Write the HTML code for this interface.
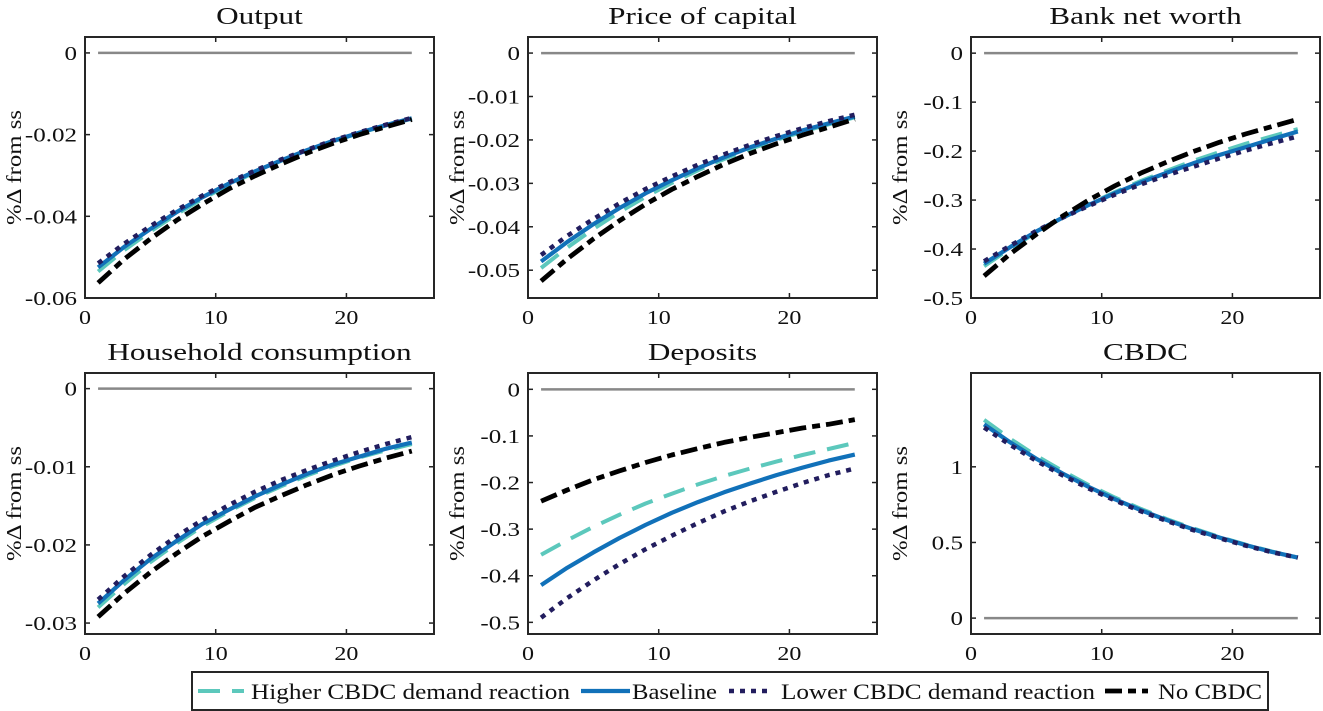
<!DOCTYPE html>
<html><head><meta charset="utf-8"><style>
body{margin:0;background:#fff;}
svg{display:block;font-family:"Liberation Serif",serif;}
</style></head><body>
<svg id="fig" width="1323" height="711" viewBox="0 0 1323 711" xmlns="http://www.w3.org/2000/svg"></svg>
<script>
const periods=[1,3,5,7,9,11,13,15,17,19,21,23,25];
const xTicks=[0,10,20];
const titles=["Output","Price of capital","Bank net worth","Household consumption","Deposits","CBDC"];
const yTicks=[[0,-0.02,-0.04,-0.06],[0,-0.01,-0.02,-0.03,-0.04,-0.05],[0,-0.1,-0.2,-0.3,-0.4,-0.5],[0,-0.01,-0.02,-0.03],[0,-0.1,-0.2,-0.3,-0.4,-0.5],[0,0.5,1]];
const yTickLabels=[["0","-0.02","-0.04","-0.06"],["0","-0.01","-0.02","-0.03","-0.04","-0.05"],["0","-0.1","-0.2","-0.3","-0.4","-0.5"],["0","-0.01","-0.02","-0.03"],["0","-0.1","-0.2","-0.3","-0.4","-0.5"],["0","0.5","1"]];
const yLims=[[-0.06,0.0039],[-0.0564,0.0037],[-0.5,0.033],[-0.0314,0.002],[-0.525,0.035],[-0.105,1.62]];
const higher=[
[-0.0535,-0.0483,-0.0437,-0.0395,-0.0357,-0.0323,-0.0292,-0.0264,-0.0239,-0.0216,-0.0196,-0.0178,-0.0161],
[-0.0495,-0.0448,-0.0405,-0.0366,-0.0331,-0.0299,-0.0270,-0.0244,-0.0221,-0.0200,-0.0181,-0.0164,-0.0148],
[-0.435,-0.399,-0.366,-0.336,-0.309,-0.284,-0.261,-0.240,-0.220,-0.202,-0.185,-0.170,-0.155],
[-0.0280,-0.0250,-0.0222,-0.0198,-0.0176,-0.0157,-0.0140,-0.0125,-0.0111,-0.0099,-0.0088,-0.0079,-0.0071],
[-0.355,-0.324,-0.295,-0.269,-0.245,-0.224,-0.204,-0.186,-0.170,-0.155,-0.141,-0.128,-0.115],
[1.31,1.185,1.073,0.972,0.880,0.797,0.722,0.654,0.593,0.537,0.486,0.441,0.400]];
const baseline=[
[-0.0525,-0.0475,-0.0431,-0.0390,-0.0353,-0.0320,-0.0290,-0.0263,-0.0238,-0.0215,-0.0195,-0.0177,-0.0160],
[-0.0480,-0.0435,-0.0394,-0.0357,-0.0323,-0.0293,-0.0265,-0.0240,-0.0217,-0.0197,-0.0178,-0.0162,-0.0146],
[-0.430,-0.396,-0.364,-0.336,-0.310,-0.286,-0.264,-0.244,-0.225,-0.208,-0.192,-0.176,-0.160],
[-0.0275,-0.0245,-0.0218,-0.0195,-0.0173,-0.0155,-0.0138,-0.0123,-0.0109,-0.0097,-0.0087,-0.0077,-0.0069],
[-0.420,-0.383,-0.350,-0.319,-0.291,-0.265,-0.242,-0.221,-0.202,-0.184,-0.168,-0.153,-0.140],
[1.28,1.161,1.053,0.956,0.867,0.786,0.713,0.647,0.587,0.533,0.483,0.438,0.400]];
const lower=[
[-0.0515,-0.0467,-0.0424,-0.0385,-0.0349,-0.0317,-0.0288,-0.0261,-0.0237,-0.0214,-0.0194,-0.0176,-0.0159],
[-0.0465,-0.0421,-0.0382,-0.0346,-0.0313,-0.0284,-0.0257,-0.0233,-0.0211,-0.0191,-0.0173,-0.0157,-0.0142],
[-0.425,-0.393,-0.363,-0.336,-0.312,-0.289,-0.268,-0.249,-0.232,-0.215,-0.199,-0.184,-0.170],
[-0.0270,-0.0240,-0.0213,-0.0189,-0.0168,-0.0149,-0.0132,-0.0117,-0.0104,-0.0092,-0.0081,-0.0071,-0.0062],
[-0.490,-0.448,-0.410,-0.375,-0.343,-0.314,-0.287,-0.262,-0.240,-0.220,-0.201,-0.184,-0.170],
[1.26,1.145,1.039,0.944,0.857,0.778,0.706,0.641,0.582,0.528,0.479,0.436,0.400]];
const noCbdc=[
[-0.0563,-0.0505,-0.0455,-0.0410,-0.0370,-0.0333,-0.0301,-0.0272,-0.0245,-0.0221,-0.0200,-0.0181,-0.0163],
[-0.0525,-0.0474,-0.0428,-0.0386,-0.0348,-0.0314,-0.0284,-0.0256,-0.0231,-0.0209,-0.0189,-0.0171,-0.0152],
[-0.455,-0.410,-0.370,-0.333,-0.300,-0.271,-0.245,-0.222,-0.201,-0.182,-0.165,-0.150,-0.135],
[-0.0292,-0.0262,-0.0235,-0.0211,-0.0189,-0.0170,-0.0152,-0.0137,-0.0123,-0.0110,-0.0099,-0.0089,-0.0080],
[-0.240,-0.216,-0.194,-0.175,-0.157,-0.141,-0.127,-0.114,-0.103,-0.093,-0.083,-0.075,-0.065],
null];
const legendLabels=["Higher CBDC demand reaction","Baseline","Lower CBDC demand reaction","No CBDC"];

const NS="http://www.w3.org/2000/svg";
const svg=document.getElementById('fig');
function mk(tag,attrs,parent){const e=document.createElementNS(NS,tag);for(const k in attrs)e.setAttribute(k,attrs[k]);(parent||svg).appendChild(e);return e;}
function widen(t,f){const w=t.getComputedTextLength();t.setAttribute('textLength',(w*f).toFixed(1));t.setAttribute('lengthAdjust','spacingAndGlyphs');}
const styles=[
 {stroke:"#5cc8bc",w:4,dash:"22 12",cap:"butt"},
 {stroke:"#1171b9",w:4.2,dash:"",cap:"butt"},
 {stroke:"#221d5e",w:4.5,dash:"5 6",cap:"butt"},
 {stroke:"#000",w:4.8,dash:"17 6 8 6",cap:"butt"}];
const names=["higher-cbdc-line","baseline-line","lower-cbdc-line","no-cbdc-line"];
const colsX=[85,528,971], rowsY=[37,373], W=349, H=261, xMax=26.7;
for(let p=0;p<6;p++){
  const L=colsX[p%3], T=rowsY[Math.floor(p/3)];
  const g=mk('g',{});
  
  
  const [y0,y1]=yLims[p];
  const sx=v=>L+v/xMax*W;
  const sy=v=>T+(y1-v)/(y1-y0)*H;
  const t=mk('text',{x:L+W/2,y:T-13,'text-anchor':'middle','font-size':24,fill:'#111'},g);t.textContent=titles[p];
  
  
  widen(t,1.3);
  const yl=mk('text',{transform:`translate(${L-64},${T+H/2}) rotate(-90)`,'text-anchor':'middle','font-size':21,fill:'#111'},g);yl.textContent="%Δ from ss";
  
  
  widen(yl,1.18);
  const z=mk('line',{x1:sx(1),x2:sx(25),y1:sy(0),y2:sy(0),stroke:'#888','stroke-width':2.5},g);
  
  
  const series=[higher[p],baseline[p],lower[p],noCbdc[p]];
  series.forEach((s,i)=>{
    if(!s)return;
    const pts=s.map((v,k)=>sx(periods[k]).toFixed(1)+","+sy(v).toFixed(1)).join(" ");
    const pl=mk('polyline',{points:pts,fill:'none',stroke:styles[i].stroke,'stroke-width':styles[i].w,'stroke-dasharray':styles[i].dash,'stroke-linecap':styles[i].cap,'stroke-linejoin':'round'},g);
    
    
  });
  xTicks.forEach(v=>{
    const x=sx(v);
    mk('line',{x1:x,x2:x,y1:T+H,y2:T+H-5,stroke:'#222','stroke-width':1.5},g);
    mk('line',{x1:x,x2:x,y1:T,y2:T+5,stroke:'#222','stroke-width':1.5},g);
    const tl=mk('text',{x:x,y:T+H+26,'text-anchor':'middle','font-size':20,fill:'#111'},g);tl.textContent=v;
    
    
    widen(tl,1.2);
  });
  yTicks[p].forEach((v,k)=>{
    const y=sy(v);
    mk('line',{x1:L,x2:L+5,y1:y,y2:y,stroke:'#222','stroke-width':1.5},g);
    mk('line',{x1:L+W,x2:L+W-5,y1:y,y2:y,stroke:'#222','stroke-width':1.5},g);
    const tl=mk('text',{x:L-8,y:y+7,'text-anchor':'end','font-size':20,fill:'#111'},g);tl.textContent=yTickLabels[p][k];
    
    
    widen(tl,1.25);
  });
  const box=mk('rect',{x:L,y:T,width:W,height:H,fill:'none',stroke:'#262626','stroke-width':2},g);
  
  
}
// legend
const lg=mk('g',{});


mk('rect',{x:192,y:672,width:1076,height:38,fill:'#fff',stroke:'#262626','stroke-width':2},lg);
const lx=[[198,244,251,319],[581,630,632,85],[729,771,781,314],[1105,1148,1158,104]];
legendLabels.forEach((lab,i)=>{
  const e=mk('g',{},lg);
  
  
  mk('line',{x1:lx[i][0],x2:lx[i][1],y1:691,y2:691,stroke:styles[i].stroke,'stroke-width':styles[i].w,'stroke-dasharray':styles[i].dash},e);
  const t=mk('text',{x:lx[i][2],y:699,'font-size':22,fill:'#111',textLength:lx[i][3],lengthAdjust:'spacingAndGlyphs'},e);t.textContent=lab;
});
</script>
</body></html>
